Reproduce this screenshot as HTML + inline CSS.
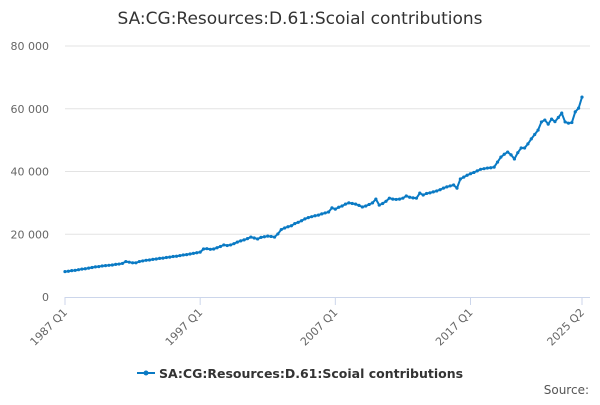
<!DOCTYPE html>
<html><head><meta charset="utf-8"><style>
body{margin:0;background:#fff;font-family:"Liberation Sans","DejaVu Sans",sans-serif}
</style></head><body>
<svg id="c" width="600" height="400" xmlns="http://www.w3.org/2000/svg">
<text x="300" y="24" text-anchor="middle" font-size="17" fill="#333" font-family="DejaVu Sans,sans-serif">SA:CG:Resources:D.61:Scoial contributions</text>
<g id="grid"></g><g id="axes"></g><g id="series"></g>
<g>
<line x1="137" y1="373" x2="155" y2="373" stroke="#0a7ac4" stroke-width="2"/>
<circle cx="146" cy="373" r="2.5" fill="#0a7ac4"/>
<text x="159" y="378" font-size="12.5" font-weight="bold" fill="#333" font-family="DejaVu Sans,sans-serif">SA:CG:Resources:D.61:Scoial contributions</text>
</g>
<text x="589" y="394" text-anchor="end" font-size="12" fill="#555" font-family="DejaVu Sans,sans-serif">Source:</text>
</svg>
<script>
const yTicks=[0,20000,40000,60000,80000];
const yTickLabels=["0","20 000","40 000","60 000","80 000"];
const xTickIdx=[0,40,80,120,153];
const xTickLabels=["1987 Q1","1997 Q1","2007 Q1","2017 Q1","2025 Q2"];
const values=[
8100,8200,8400,8500, 8700,8900,9000,9200, 9400,9600,9700,9900,
10000,10100,10200,10400, 10500,10700,11300,11100, 10900,10900,11300,11500,
11700,11800,12000,12100, 12300,12400,12600,12700, 12900,13000,13200,13400, 13500,13700,13900,14100,
14300,15300,15400,15200, 15300,15700,16100,16600, 16400,16600,17000,17500, 17900,18200,18600,19100,
18800,18500,19000,19200, 19400,19300,19100,20100, 21500,22000,22400,22700,
23400,23800,24300,24900, 25300,25600,25900,26100, 26500,26800,27100,28400,
28000,28600,29000,29600, 30000,29800,29600,29200, 28700,29000,29500,30000,
31200,29300,29800,30500, 31500,31200,31100,31200, 31500,32200,31800,31600,
31500,33100,32500,33000, 33200,33500,33800,34200, 34700,35100,35400,35700,
34700,37600,38200,38800, 39300,39700,40200,40700, 40900,41100,41200,41400,
43000,44600,45500,46200, 45300,44000,46000,47500, 47500,48800,50400,51800,
53200,55800,56400,55100, 56700,55900,57200,58600, 55800,55400,55600,59000,
60200,63700];
const NS="http://www.w3.org/2000/svg";
const X0=65,X1=582,Y0=297,Y1=46;
const xs=i=>X0+(X1-X0)*i/(values.length-1);
const ys=v=>Y0-(Y0-Y1)*v/80000;
function mk(t,a,p){const e=document.createElementNS(NS,t);for(const k in a)e.setAttribute(k,a[k]);p.appendChild(e);return e;}
const grid=document.getElementById('grid'),axes=document.getElementById('axes'),ser=document.getElementById('series');
yTicks.forEach((v,k)=>{
 if(v>0){const g=mk('line',{x1:X0,x2:590,y1:ys(v),y2:ys(v),stroke:'#e3e3e3'},grid);
 
 }
 const t=mk('text',{x:X0-16,y:ys(v)+4,'text-anchor':'end','font-size':'11',fill:'#666','font-family':'DejaVu Sans,sans-serif'},axes);
 t.textContent=yTickLabels[k];
 
 
});
const ax=mk('line',{x1:X0,x2:590,y1:Y0+0.5,y2:Y0+0.5,stroke:'#ccd6eb'},axes);


xTickIdx.forEach((i,k)=>{
 const x=xs(i);
 const tk=mk('line',{x1:x,x2:x,y1:Y0,y2:Y0+8,stroke:'#ccd6eb'},axes);
 
 
 const t=mk('text',{x:x+3,y:Y0+16,'text-anchor':'end','font-size':'11',fill:'#666','font-family':'DejaVu Sans,sans-serif',transform:`rotate(-45 ${x+3} ${Y0+16})`},axes);
 t.textContent=xTickLabels[k];
 
 
});
const pl=mk('polyline',{points:values.map((v,i)=>xs(i)+','+ys(v)).join(' '),fill:'none',stroke:'#0a7ac4','stroke-width':2},ser);


values.forEach((v,i)=>{
 const c=mk('circle',{cx:xs(i),cy:ys(v),r:1.6,fill:'#0a7ac4'},ser);
 
 
});
</script>
</body></html>
